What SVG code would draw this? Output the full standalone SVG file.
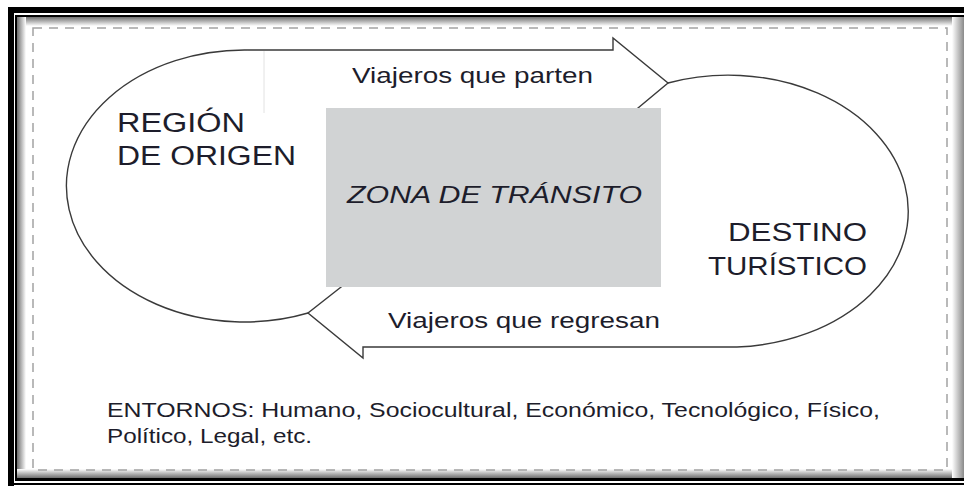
<svg xmlns="http://www.w3.org/2000/svg" width="964" height="486" viewBox="0 0 964 486">
<defs>
  <linearGradient id="shT" x1="0" y1="0" x2="0" y2="1"><stop offset="0" stop-color="#6e6e6e"/><stop offset="1" stop-color="#ffffff"/></linearGradient>
  <linearGradient id="shL" x1="0" y1="0" x2="1" y2="0"><stop offset="0" stop-color="#6e6e6e"/><stop offset="1" stop-color="#ffffff"/></linearGradient>
  <linearGradient id="shB" x1="0" y1="1" x2="0" y2="0"><stop offset="0" stop-color="#6e6e6e"/><stop offset="1" stop-color="#ffffff"/></linearGradient>
  <linearGradient id="shR" x1="1" y1="0" x2="0" y2="0"><stop offset="0" stop-color="#8a8a8a"/><stop offset="1" stop-color="#ffffff"/></linearGradient>
</defs>
<style>
  .t{font-family:"Liberation Sans",Arial,sans-serif;fill:#1d1d2b}
  .outline{fill:none;stroke:#3a3a3a;stroke-width:1.4;stroke-linejoin:miter}
  .blk{fill:#000}
</style>
<rect width="964" height="486" fill="#fff"/>
<g id="frame">
  <rect x="17" y="17" width="947" height="9" fill="url(#shT)"/>
  <rect x="17" y="17" width="9" height="461" fill="url(#shL)"/>
  <rect x="17" y="469" width="947" height="9" fill="url(#shB)"/>
  <rect x="952" y="17" width="12" height="461" fill="url(#shR)"/>
  <rect class="blk" x="8" y="7" width="956" height="6"/>
  <rect class="blk" x="8" y="7" width="6" height="479"/>
  <rect class="blk" x="15" y="15" width="949" height="2"/>
  <rect class="blk" x="15" y="15" width="2" height="465"/>
  <rect class="blk" x="15" y="478" width="949" height="3"/>
  <rect class="blk" x="8" y="483" width="956" height="2"/>
  <rect x="33" y="28" width="914" height="442" fill="none" stroke="#a3a3a3" stroke-width="1.5" stroke-dasharray="9 7"/>
</g>
<line x1="264" y1="51" x2="264" y2="113" stroke="#e2e2e2" stroke-width="1"/>
<g id="connectors">
  <path id="arrow-parten" class="outline" d="M 248 50 L 613 50 L 613 38 L 668 83 L 620 123"/>
  <path id="arrow-regresan" class="outline" d="M 737 347 L 363 347 L 363 358 L 308 313 L 350 280"/>
</g>
<g id="origen">
  <path class="outline" d="M 248 50 A 178 136 0 1 0 308 313"/>
  <text class="t" x="117" y="132" font-size="27" textLength="128" lengthAdjust="spacingAndGlyphs">REGIÓN</text>
  <text class="t" x="117" y="165" font-size="27" textLength="179" lengthAdjust="spacingAndGlyphs">DE ORIGEN</text>
</g>
<g id="destino">
  <path class="outline" d="M 737 347 A 180 136 0 1 0 668 83"/>
  <text class="t" x="728" y="241" font-size="25" textLength="139" lengthAdjust="spacingAndGlyphs">DESTINO</text>
  <text class="t" x="708" y="275" font-size="25" textLength="159" lengthAdjust="spacingAndGlyphs">TURÍSTICO</text>
</g>
<g id="transito">
  <rect x="326" y="108" width="335" height="179" fill="#d1d3d4"/>
  <text class="t" x="347" y="203" font-size="24" font-style="italic" textLength="295" lengthAdjust="spacingAndGlyphs">ZONA DE TRÁNSITO</text>
</g>
<g id="labels">
  <text class="t" x="352" y="83" font-size="22" textLength="241" lengthAdjust="spacingAndGlyphs">Viajeros que parten</text>
  <text class="t" x="388" y="328" font-size="22" textLength="272" lengthAdjust="spacingAndGlyphs">Viajeros que regresan</text>
  <text class="t" x="107" y="417" font-size="20" textLength="773" lengthAdjust="spacingAndGlyphs">ENTORNOS: Humano, Sociocultural, Económico, Tecnológico, Físico,</text>
  <text class="t" x="107" y="443" font-size="20" textLength="205" lengthAdjust="spacingAndGlyphs">Político, Legal, etc.</text>
</g>
</svg>
